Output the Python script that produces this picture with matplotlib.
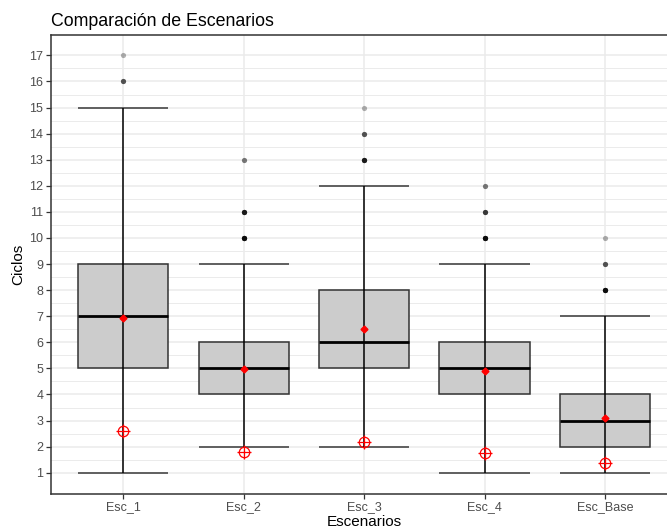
import numpy as np
import matplotlib
matplotlib.use('Agg')
import matplotlib.pyplot as plt

plt.rcParams['font.family'] = ['Liberation Sans', 'DejaVu Sans']

# -----------------------------
# Summary statistics per scenario
# -----------------------------
escenarios = ["Esc_1", "Esc_2", "Esc_3", "Esc_4", "Esc_Base"]
whisker_lo = [1, 2, 2, 1, 1]
q1 = [5, 4, 5, 4, 2]
mediana = [7, 5, 6, 5, 3]
q3 = [9, 6, 8, 6, 4]
whisker_hi = [15, 9, 12, 9, 7]
media = [6.95, 4.98, 6.52, 4.91, 3.10]
minimo_medio = [2.60, 1.78, 2.18, 1.74, 1.38]

# outliers: value and how many times it occurs
outlier_esc = [0, 0, 1, 1, 1, 2, 2, 2, 3, 3, 3, 4, 4, 4]
outlier_val = [16, 17, 10, 11, 13, 13, 14, 15, 10, 11, 12, 8, 9, 10]
outlier_n = [3, 1, 8, 6, 2, 6, 3, 1, 8, 4, 2, 8, 3, 1]

x = np.arange(1, len(escenarios) + 1)
w = 0.75

fig = plt.figure(figsize=(6.67, 5.31), dpi=100)
ax = fig.add_axes([0.0765, 0.0704, 0.939, 0.8646])

# grid like theme_bw
ax.set_yticks(np.arange(1, 18))
ax.set_yticks(np.arange(1.5, 17.5, 1), minor=True)
ax.grid(True, which='major', color='#EBEBEB', linewidth=1.1, zorder=0)
ax.grid(True, which='minor', axis='y', color='#EBEBEB', linewidth=0.7, zorder=0)
ax.set_axisbelow(True)

# boxes
ax.bar(x, np.array(q3) - np.array(q1), bottom=q1, width=w,
       color='#CCCCCC', edgecolor='#333333', linewidth=1.1, zorder=2)
ax.hlines(mediana, x - w / 2, x + w / 2, color='black', linewidth=2.0, zorder=3)

# whiskers with caps
ax.vlines(x, whisker_lo, whisker_hi, color='black', linewidth=1.1, zorder=4)
ax.hlines(whisker_lo, x - w / 2, x + w / 2, color='#555555', linewidth=1.3, zorder=3)
ax.hlines(whisker_hi, x - w / 2, x + w / 2, color='#555555', linewidth=1.3, zorder=3)

# outliers, semi-transparent so repeats look darker
ox = np.repeat(x[outlier_esc], outlier_n)
oy = np.repeat(outlier_val, outlier_n)
ax.scatter(ox, oy, s=14, color='black', alpha=0.3, linewidths=0, zorder=4)

# mean and mean minimum markers
ax.plot(x, media, linestyle='none', marker='D', markersize=3.5,
        color='red', zorder=5)
ax.plot(x, minimo_medio, linestyle='none', marker='o', markersize=7.5,
        markerfacecolor='none', markeredgecolor='red', markeredgewidth=0.9, zorder=5)
ax.plot(x, minimo_medio, linestyle='none', marker='+', markersize=9.5,
        color='red', markeredgewidth=0.9, zorder=5)

ax.set_xlim(0.4, 5.6)
ax.set_ylim(0.2, 17.8)
ax.set_xticks(x)
ax.set_xticklabels(escenarios)

for s in ax.spines.values():
    s.set_color('#333333')
    s.set_linewidth(1.1)
ax.tick_params(which='major', length=3.5, width=0.9, color='#333333',
               labelsize=9, labelcolor='#4D4D4D', pad=2)
ax.tick_params(which='minor', length=0)

ax.set_xlabel("Escenarios", fontsize=11, labelpad=1)
ax.set_ylabel("Ciclos", fontsize=11, labelpad=3)
ax.set_title("Comparación de Escenarios", loc='left', fontsize=12.8, pad=6)

plt.savefig("out.png", dpi=100)
plt.close()
